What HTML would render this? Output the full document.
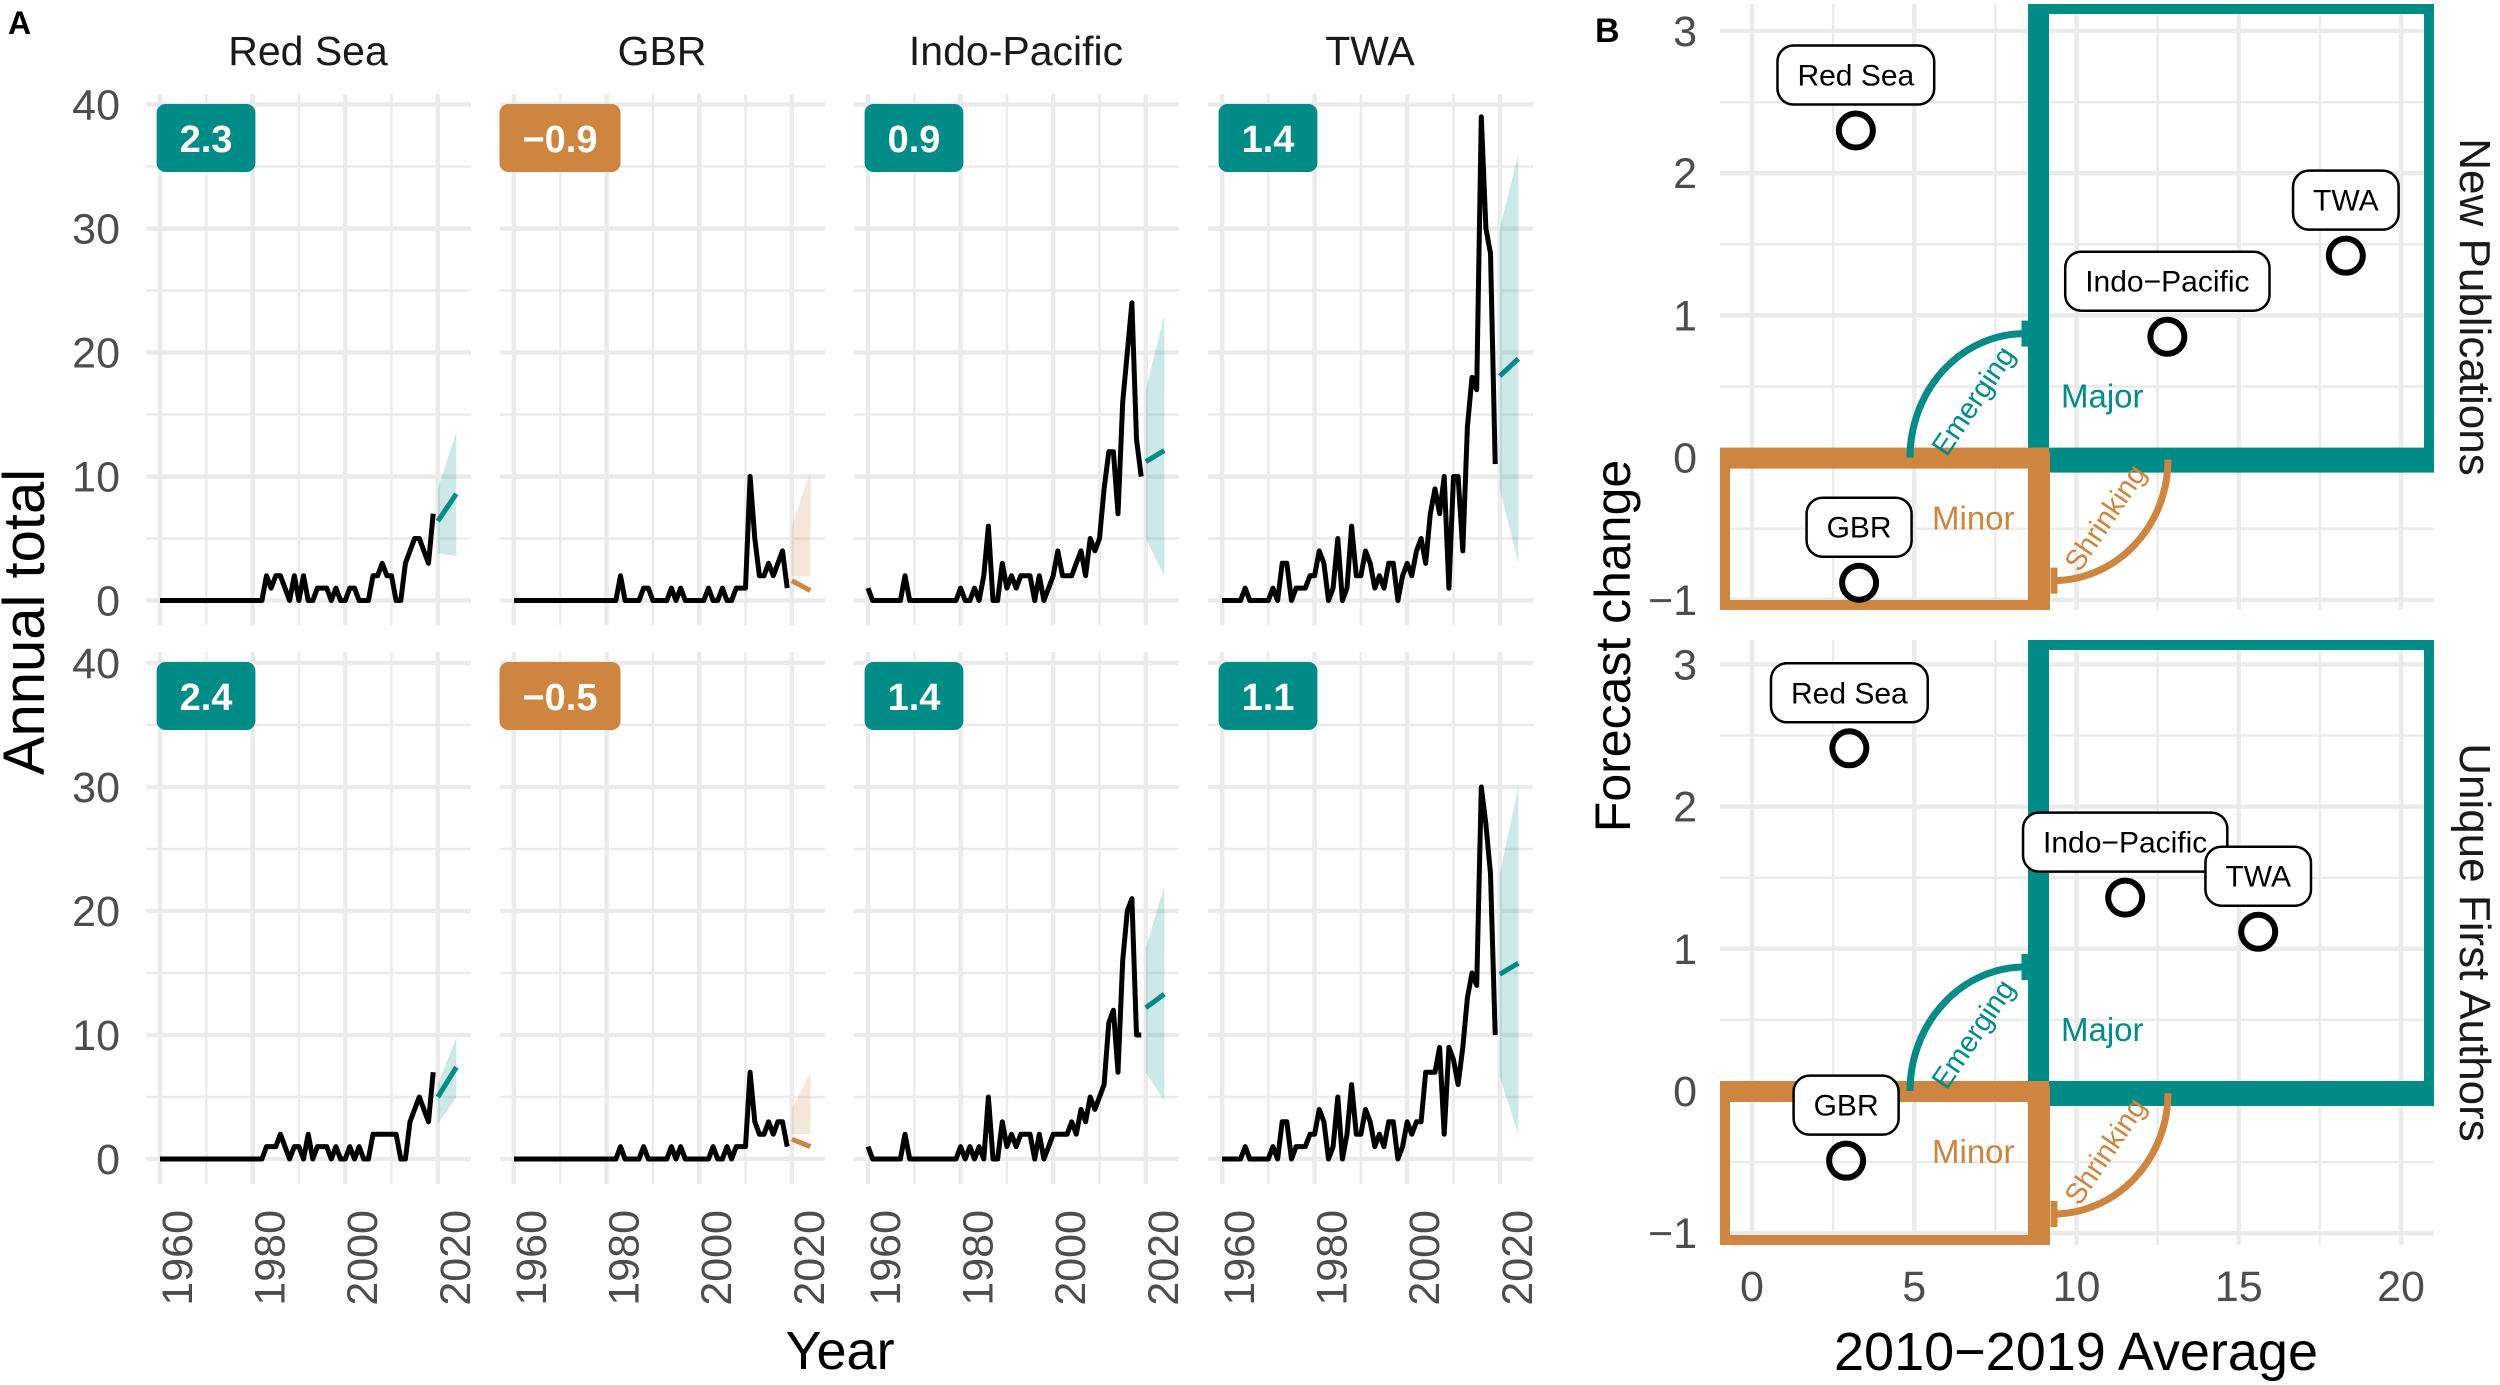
<!DOCTYPE html>
<html><head><meta charset="utf-8"><style>
html,body{margin:0;padding:0;background:#fff;}
svg{display:block;font-family:"Liberation Sans",Arial,sans-serif;}
</style></head><body>
<svg id="chart" width="2500" height="1385" viewBox="0 0 2500 1385" xmlns="http://www.w3.org/2000/svg">
<g id="panelA"></g>
<g id="panelB"></g>
</svg>
<script>
// ---------- Panel A data ----------
const regions = ["Red Sea", "GBR", "Indo-Pacific", "TWA"];
const yearStart = 1960;
const pubRedSea = [0,0,0,0,0,0,0,0,0,0, 0,0,0,0,0,0,0,0,0,0, 0,0,0,2,1,2,2,1,0,2, 0,2,0,0,1,1,1,0,1,0, 0,1,1,0,0,0,2,2,3,2, 2,0,0,3,4,5,5,4,3,7];
const pubGBR = [0,0,0,0,0,0,0,0,0,0, 0,0,0,0,0,0,0,0,0,0, 0,0,0,2,0,0,0,0,1,1, 0,0,0,0,1,0,1,0,0,0, 0,0,1,0,0,1,0,0,1,1, 1,10,5,2,2,3,2,3,4,1];
const pubIndo = [1,0,0,0,0,0,0,0,2,0, 0,0,0,0,0,0,0,0,0,0, 1,0,0,1,0,2,6,0,0,3, 1,2,1,2,2,2,0,2,0,1, 2,4,2,2,2,3,4,2,5,4, 5,9,12,12,7,16,20,24,13,10];
const pubTWA = [0,0,0,0,0,1,0,0,0,0, 0,1,0,3,3,0,1,1,1,2, 2,4,3,0,1,5,0,1,6,2, 2,4,3,1,2,1,3,3,0,2, 3,2,4,5,3,7,9,7,10,1, 10,10,4,14,18,17,39,30,28,11];
const autRedSea = [0,0,0,0,0,0,0,0,0,0, 0,0,0,0,0,0,0,0,0,0, 0,0,0,1,1,1,2,1,0,1, 1,0,2,0,1,1,1,0,1,0, 0,1,0,1,0,0,2,2,2,2, 2,2,0,0,3,4,5,4,3,7];
const autGBR = [0,0,0,0,0,0,0,0,0,0, 0,0,0,0,0,0,0,0,0,0, 0,0,0,1,0,0,0,0,1,0, 0,0,0,0,1,0,1,0,0,0, 0,0,0,1,0,0,1,0,1,1, 1,7,3,2,2,3,2,3,3,1];
const autIndo = [1,0,0,0,0,0,0,0,2,0, 0,0,0,0,0,0,0,0,0,0, 1,0,1,0,1,0,5,0,0,3, 1,2,1,2,2,2,0,2,0,1, 2,2,2,2,3,2,4,3,5,4, 5,6,11,12,7,16,20,21,10,10];
const autTWA = [0,0,0,0,0,1,0,0,0,0, 0,1,0,3,3,0,1,1,1,2, 2,4,3,0,1,5,0,2,6,2, 2,4,3,1,2,1,3,3,0,1, 3,2,3,3,7,7,7,9,2,9, 8,6,9,13,15,14,30,27,23,10];
const badgePub = [2.3, -0.9, 0.9, 1.4];
const badgeAut = [2.4, -0.5, 1.4, 1.1];
const fcYears = [2020, 2024];
const fcPubStart = [6.4, 1.6, 11.2, 18.1];
const fcPubEnd = [8.6, 0.8, 12.1, 19.5];
const fcPubLoStart = [3.8, -2, 5, 9];
const fcPubHiStart = [9.0, 6.0, 17, 30];
const fcPubLoEnd = [3.6, -2, 1, 3];
const fcPubHiEnd = [13.6, 10.4, 23, 36];
const fcAutStart = [5.0, 1.6, 12.2, 14.9];
const fcAutEnd = [7.4, 1.0, 13.3, 15.8];
const fcAutLoStart = [2.8, -2, 7, 6.6];
const fcAutHiStart = [6.0, 4, 17, 23];
const fcAutLoEnd = [5.0, -2, 4.7, 1.8];
const fcAutHiEnd = [9.8, 7, 22, 30];
const yTicksA = [0, 10, 20, 30, 40];
const xTicksA = [1960, 1980, 2000, 2020];

// ---------- Panel B data ----------
const labelsB = ["Red Sea", "GBR", "Indo-Pacific", "TWA"];
const pubAvg = [3.2, 3.3, 12.8, 18.3];
const pubChange = [2.3, -0.88, 0.85, 1.42];
const autAvg = [3.0, 2.9, 11.5, 15.6];
const autChange = [2.41, -0.49, 1.36, 1.12];
const xTicksB = [0, 5, 10, 15, 20];
const yTicksB = [-1, 0, 1, 2, 3];

const TEAL = "#008b87", ORANGE = "#cd853f", GRID = "#ebebeb", TICK = "#4d4d4d";
const NS = "http://www.w3.org/2000/svg";
function el(tag, attrs, parent, text) {
  const e = document.createElementNS(NS, tag);
  for (const k in attrs) e.setAttribute(k, attrs[k]);
  if (text !== undefined) e.textContent = text;
  parent.appendChild(e);
  return e;
}
function fmt(v) { return (v < 0 ? "\u2212" : "") + Math.abs(v).toFixed(1); }

// ---------- Panel A ----------
const A = document.getElementById("panelA");
const rowsA = [
  {zero: 600.5, top: 94, bot: 625, series: [pubRedSea, pubGBR, pubIndo, pubTWA], badge: badgePub, badgeY: 104,
   fs: fcPubStart, fe: fcPubEnd, ls: fcPubLoStart, hs: fcPubHiStart, le: fcPubLoEnd, he: fcPubHiEnd, name: "publications"},
  {zero: 1159, top: 652, bot: 1184, series: [autRedSea, autGBR, autIndo, autTWA], badge: badgeAut, badgeY: 662,
   fs: fcAutStart, fe: fcAutEnd, ls: fcAutLoStart, hs: fcAutHiStart, le: fcAutLoEnd, he: fcAutHiEnd, name: "authors"}
];
const unitA = 12.4;
function xA(i, yr) { return 160 + 354 * i + (yr - 1960) * 4.63; }

rowsA.forEach((row, r) => {
  const yA = v => row.zero - unitA * v;
  for (let i = 0; i < 4; i++) {
    const left = 146 + 354 * i, right = left + 325;
    const g = el("g", {}, A);
    
    
    for (let v = 5; v <= 35; v += 10) {
      const l = el("line", {x1: left, x2: right, y1: yA(v), y2: yA(v), stroke: GRID, "stroke-width": 2.5}, g);
      
      
    }
    for (let yr = 1970; yr <= 2010; yr += 20) {
      const l = el("line", {x1: xA(i, yr), x2: xA(i, yr), y1: row.top, y2: row.bot, stroke: GRID, "stroke-width": 2.5}, g);
      
      
    }
    yTicksA.forEach(v => {
      const l = el("line", {x1: left, x2: right, y1: yA(v), y2: yA(v), stroke: GRID, "stroke-width": 4.5}, g);
      
      
    });
    xTicksA.forEach(yr => {
      const l = el("line", {x1: xA(i, yr), x2: xA(i, yr), y1: row.top, y2: row.bot, stroke: GRID, "stroke-width": 4.5}, g);
      
      
    });
    const col = row.badge[i] >= 0 ? TEAL : ORANGE;
    const cl = v => Math.max(v, (row.zero - row.bot) / -unitA);
    const pts = [[xA(i, fcYears[0]), yA(cl(row.hs[i]))], [xA(i, fcYears[1]), yA(cl(row.he[i]))],
                 [xA(i, fcYears[1]), yA(cl(row.le[i]))], [xA(i, fcYears[0]), yA(cl(row.ls[i]))]];
    const rib = el("polygon", {points: pts.map(p => p.join(",")).join(" "), fill: col, "fill-opacity": 0.2}, g);
    
    
    const s = row.series[i];
    const d = s.map((v, k) => (k ? "L" : "M") + xA(i, yearStart + k).toFixed(1) + "," + yA(v).toFixed(1)).join("");
    const p = el("path", {d: d, fill: "none", stroke: "#000", "stroke-width": 5, "stroke-linejoin": "round"}, g);
    
    
    const fl = el("line", {x1: xA(i, fcYears[0]), y1: yA(row.fs[i]), x2: xA(i, fcYears[1]), y2: yA(row.fe[i]), stroke: col, "stroke-width": 5}, g);
    
    
    const bt = fmt(row.badge[i]);
    const bg = el("g", {}, g);
    
    
    const cx = left + 60;
    const rect = el("rect", {x: cx - 50, y: row.badgeY, width: 100, height: 68, rx: 9, fill: col}, bg);
    const tx = el("text", {x: cx, y: row.badgeY + 48, "text-anchor": "middle", "font-size": 38, "font-weight": "bold", fill: "#fff"}, bg, bt);
    const w = tx.getComputedTextLength() + 46;
    rect.setAttribute("width", w);
    rect.setAttribute("x", cx - w / 2);
    if (i === 0) {
      yTicksA.forEach(v => {
        const t = el("text", {x: 120, y: yA(v) + 15, "text-anchor": "end", "font-size": 43, fill: TICK}, A, String(v));
        
        
      });
    }
    if (r === 1) {
      xTicksA.forEach(yr => {
        const x0 = xA(i, yr) + 32, y0 = 1210;
        const t = el("text", {x: x0, y: y0, "text-anchor": "end", "font-size": 43, fill: TICK, transform: `rotate(-90 ${x0} ${y0})`}, A, String(yr));
        
        
      });
    } else {
      const st = el("text", {x: left + 162, y: 65, "text-anchor": "middle", "font-size": 41, fill: "#1a1a1a"}, A, regions[i]);
      
      
    }
  }
});
let t;
t = el("text", {x: 8, y: 34, "font-size": 32, "font-weight": "bold", fill: "#000"}, A, "A");
 
t = el("text", {x: 44, y: 622, "text-anchor": "middle", "font-size": 58, fill: "#000", transform: "rotate(-90 44 622)"}, A, "Annual total");
 
t = el("text", {x: 840, y: 1369, "text-anchor": "middle", "font-size": 54, fill: "#000"}, A, "Year");
 

// ---------- Panel B ----------
const B = document.getElementById("panelB");
const xB = v => 1752 + 32.45 * v;
const facetsB = [
  {zero: 457.6, top: 4, bot: 610, avg: pubAvg, chg: pubChange, strip: "New Publications", name: "new-publications"},
  {zero: 1091, top: 640, bot: 1245, avg: autAvg, chg: autChange, strip: "Unique First Authors", name: "unique-first-authors"}
];
const unitB = 142.2;
facetsB.forEach(f => {
  const yB = v => f.zero - unitB * v;
  const g = el("g", {}, B);
  
  
  for (let v = -0.5; v <= 3; v += 1) {
    const l = el("line", {x1: 1720, x2: 2434, y1: yB(v), y2: yB(v), stroke: GRID, "stroke-width": 2.5}, g);
     
  }
  for (let v = 2.5; v <= 20; v += 5) {
    const l = el("line", {x1: xB(v), x2: xB(v), y1: f.top, y2: f.bot, stroke: GRID, "stroke-width": 2.5}, g);
     
  }
  yTicksB.forEach(v => {
    const l = el("line", {x1: 1720, x2: 2434, y1: yB(v), y2: yB(v), stroke: GRID, "stroke-width": 4.5}, g);
     
    const tt = el("text", {x: 1697, y: yB(v) + 15, "text-anchor": "end", "font-size": 43, fill: TICK}, B, v < 0 ? "\u2212" + Math.abs(v) : String(v));
     
  });
  xTicksB.forEach(v => {
    const l = el("line", {x1: xB(v), x2: xB(v), y1: f.top, y2: f.bot, stroke: GRID, "stroke-width": 4.5}, g);
     
  });
  const z = f.zero;
  const tb = el("rect", {x: 2033, y: f.top + 5, width: 396, height: z + 10 - f.top - 5, fill: "none", stroke: TEAL, "stroke-width": 10}, g);
   
  const tv = el("rect", {x: 2028, y: f.top, width: 21, height: z - 10 - f.top, fill: TEAL}, g);
   
  const th = el("rect", {x: 2049, y: z - 10, width: 385, height: 21, fill: TEAL}, g);
   
  const ob = el("rect", {x: 1725, y: z, width: 320, height: f.bot - z - 5, fill: "none", stroke: ORANGE, "stroke-width": 10}, g);
   
  const oh = el("rect", {x: 1720, y: z - 10, width: 329, height: 21, fill: ORANGE}, g);
   
  const ov = el("rect", {x: 2028, y: z - 10, width: 21, height: f.bot - z + 10, fill: ORANGE}, g);
   
  const ea = el("path", {d: `M1910,${z} A115,124 0 0 1 2025,${z - 124}`, fill: "none", stroke: TEAL, "stroke-width": 7}, g);
   
  el("line", {x1: 2025, x2: 2025, y1: z - 137, y2: z - 111, stroke: TEAL, "stroke-width": 7}, g);
  const sa = el("path", {d: `M2168,${z + 2} A115,121 0 0 1 2053,${z + 123}`, fill: "none", stroke: ORANGE, "stroke-width": 7}, g);
   
  el("line", {x1: 2054, x2: 2054, y1: z + 110, y2: z + 136, stroke: ORANGE, "stroke-width": 7}, g);
  t = el("text", {x: 1973, y: z - 47, "text-anchor": "middle", "font-size": 29, fill: TEAL, transform: `rotate(-56 1973 ${z - 57})`}, g, "Emerging");
   
  t = el("text", {x: 2105, y: z + 70, "text-anchor": "middle", "font-size": 29, fill: ORANGE, transform: `rotate(-56 2105 ${z + 60})`}, g, "Shrinking");
   
  t = el("text", {x: 2061, y: z - 50, "font-size": 33, fill: TEAL}, g, "Major");
   
  t = el("text", {x: 1932, y: z + 72, "font-size": 33, fill: ORANGE}, g, "Minor");
   
  labelsB.forEach((lab, k) => {
    const px = xB(f.avg[k]), py = yB(f.chg[k]);
    const c = el("circle", {cx: px, cy: py, r: 17, fill: "none", stroke: "#000", "stroke-width": 6}, g);
    
    
  });
  labelsB.forEach((lab, k) => {
    const px = xB(f.avg[k]), py = yB(f.chg[k]);
    const lg = el("g", {}, g);
    
    
    const rr = el("rect", {x: px - 50, y: py - 85, width: 100, height: 59, rx: 16, fill: "#fff", stroke: "#000", "stroke-width": 2.5}, lg);
    const lt = el("text", {x: px, y: py - 45, "text-anchor": "middle", "font-size": 30, fill: "#000"}, lg, lab.replace("-", "\u2212"));
    const w = lt.getComputedTextLength() + 40;
    rr.setAttribute("x", px - w / 2); rr.setAttribute("width", w);
  });
  const sy = (f.top + f.bot) / 2;
  t = el("text", {x: 2460, y: sy, "text-anchor": "middle", "font-size": 44, fill: "#1a1a1a", transform: `rotate(90 2460 ${sy})`}, B, f.strip);
   
});
xTicksB.forEach(v => {
  const tt = el("text", {x: xB(v), y: 1301, "text-anchor": "middle", "font-size": 43, fill: TICK}, B, String(v));
   
});
t = el("text", {x: 1595, y: 42, "font-size": 34, "font-weight": "bold", fill: "#000"}, B, "B");
 
t = el("text", {x: 1630, y: 646, "text-anchor": "middle", "font-size": 50, fill: "#000", transform: "rotate(-90 1630 646)"}, B, "Forecast change");
 
t = el("text", {x: 2076, y: 1370, "text-anchor": "middle", "font-size": 54, fill: "#000"}, B, "2010\u22122019 Average");
 
</script>
</body></html>
